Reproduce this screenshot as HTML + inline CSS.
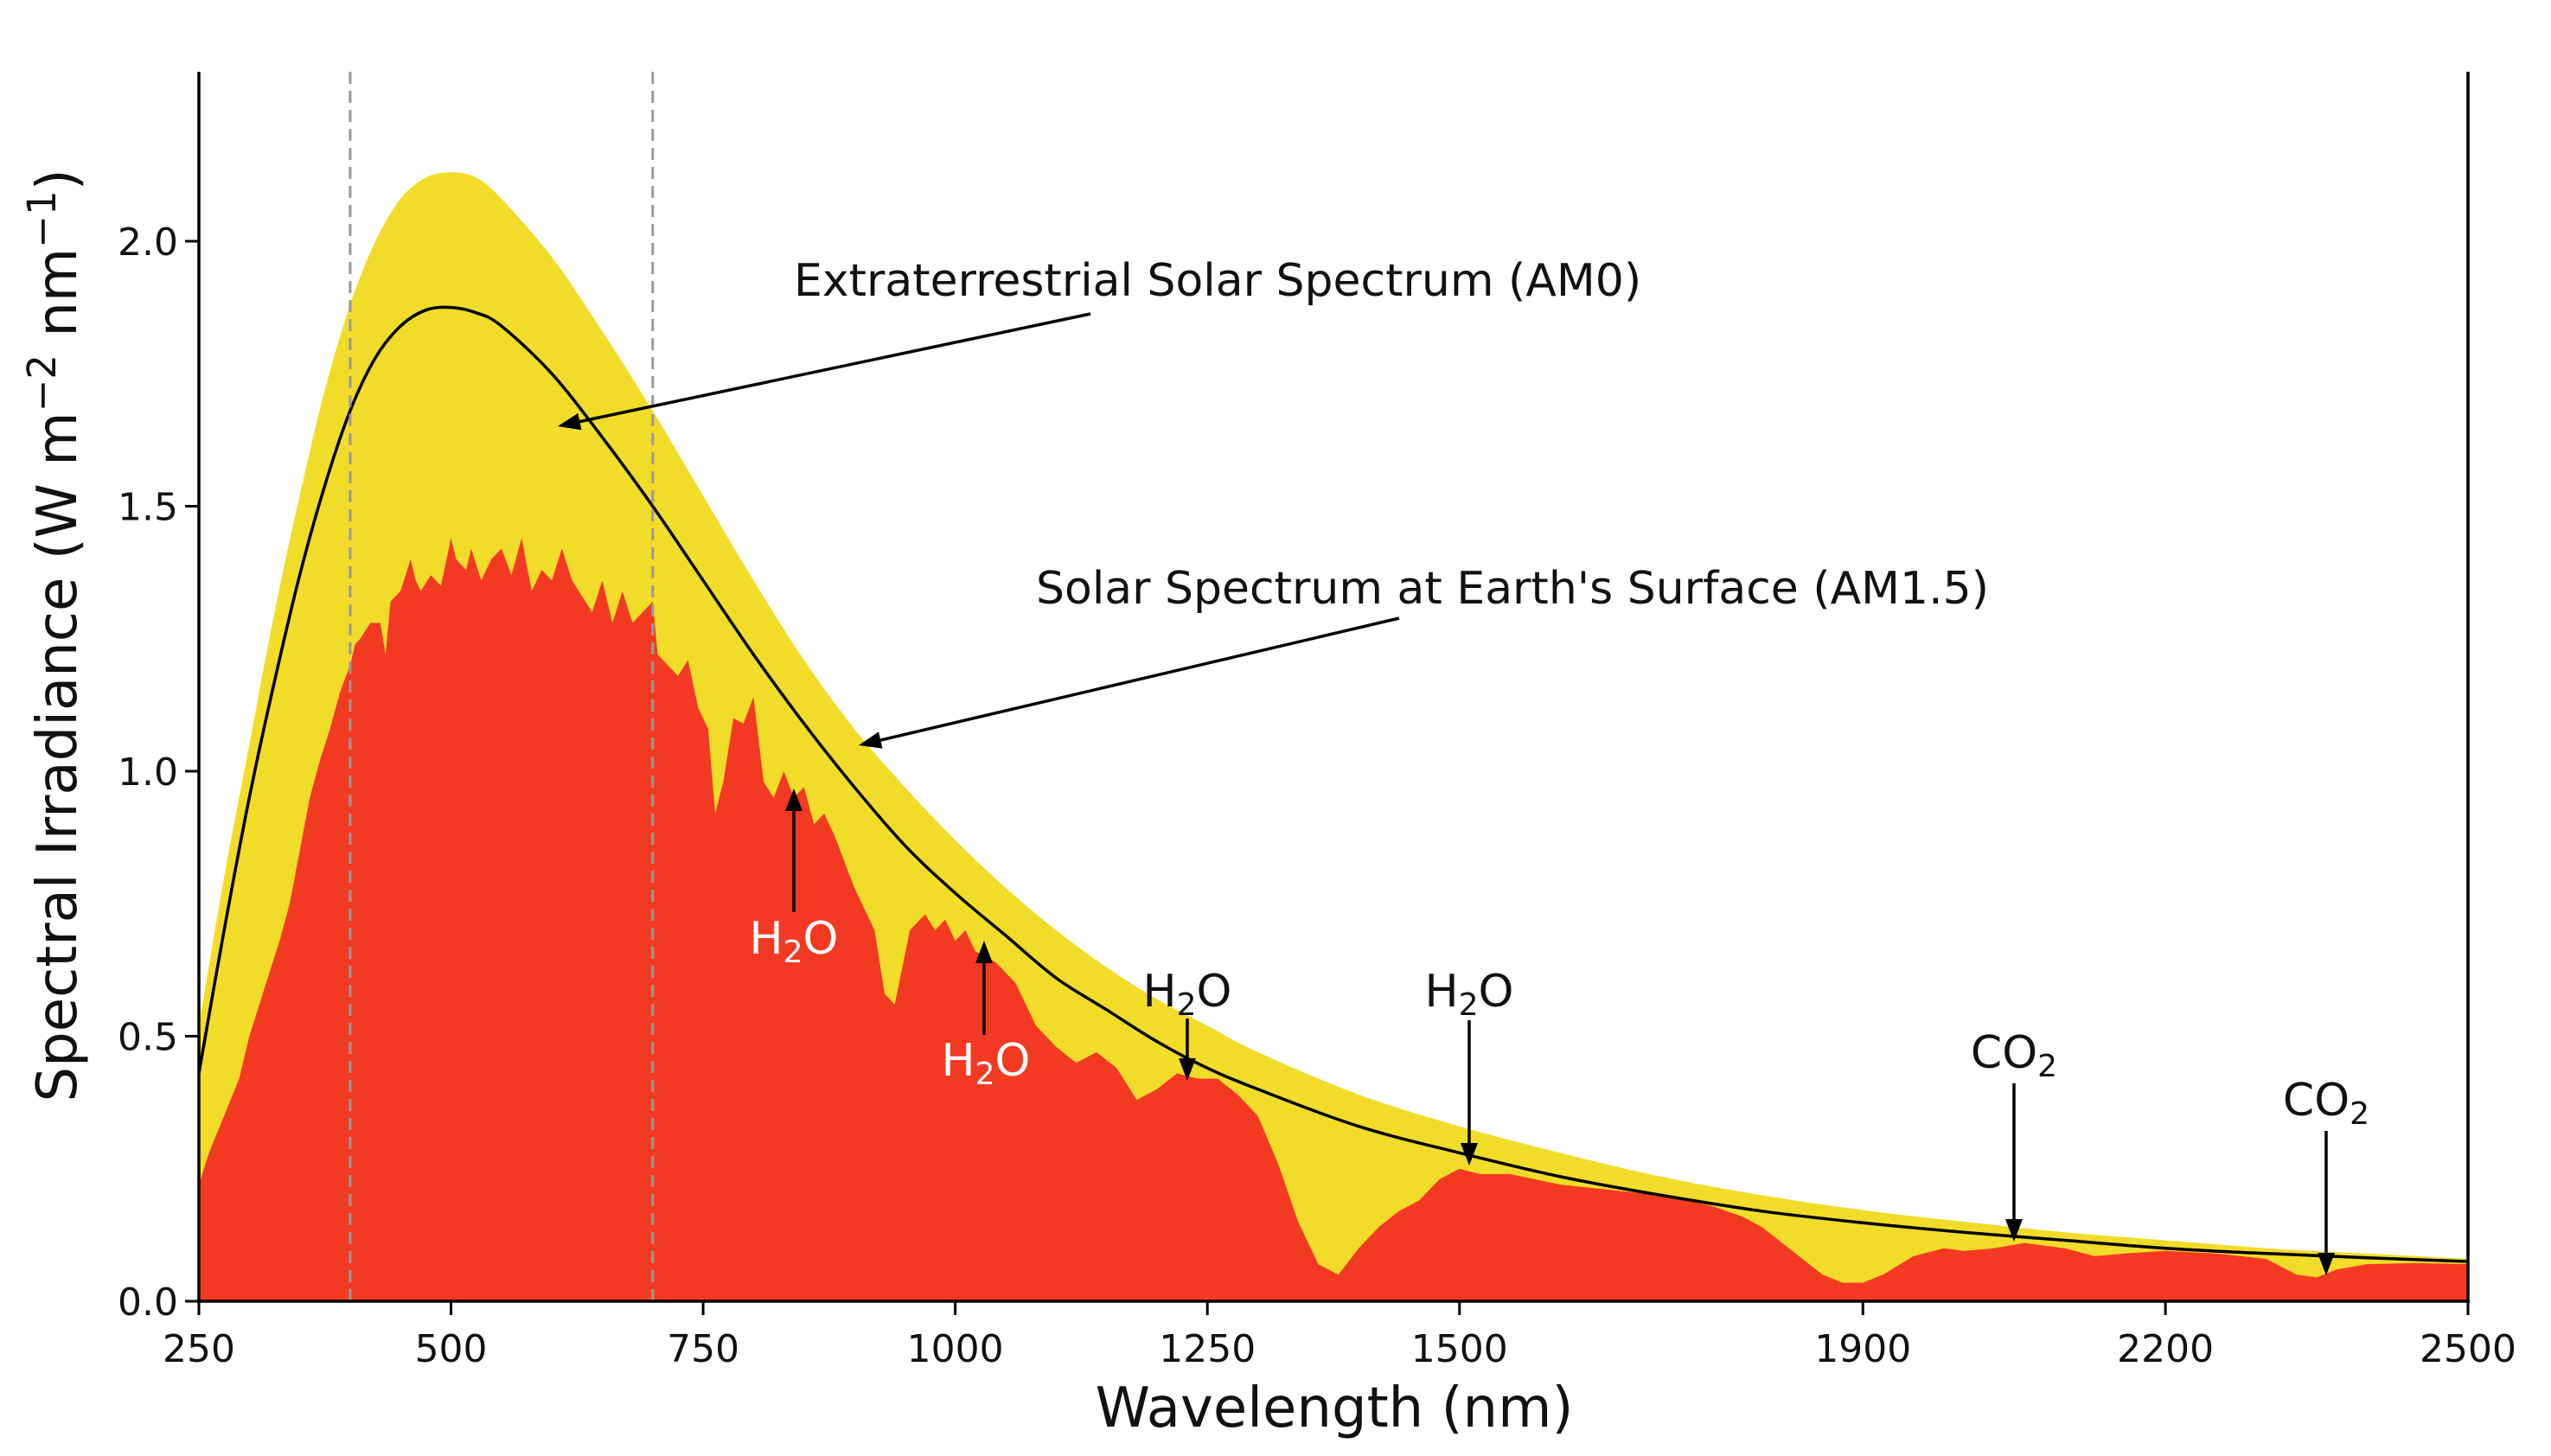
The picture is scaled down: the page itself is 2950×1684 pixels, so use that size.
<!DOCTYPE html>
<html><head><meta charset="utf-8">
<style>
html,body{margin:0;padding:0;background:#fff;}
svg{display:block;font-family:"DejaVu Sans","Liberation Sans",sans-serif;}
</style></head>
<body>
<svg id="chart" width="2950" height="1684" viewBox="0 0 2950 1684">
<g id="plot"></g>
<g id="axes"></g>
<g id="annot"></g>
</svg>
<script>
const am0Wl = [250,275,300,325,350,375,400,425,450,475,500,525,550,600,650,700,750,800,850,900,950,1000,1050,1100,1150,1200,1250,1300,1400,1500,1600,1700,1800,1900,2000,2100,2200,2300,2400,2500];
const am0Val = [0.52,0.8,1.05,1.3,1.52,1.72,1.88,2.0,2.08,2.12,2.13,2.12,2.08,1.97,1.83,1.68,1.52,1.36,1.21,1.08,0.97,0.87,0.78,0.70,0.63,0.57,0.52,0.47,0.39,0.33,0.28,0.235,0.2,0.172,0.15,0.13,0.115,0.1,0.09,0.08];
const bbWl = [250,275,300,325,350,375,400,425,450,475,500,525,550,600,650,700,750,800,850,900,950,1000,1050,1100,1150,1200,1250,1300,1400,1500,1600,1700,1800,1900,2000,2100,2200,2300,2400,2500];
const bbVal = [0.43,0.7,0.95,1.17,1.37,1.54,1.68,1.78,1.84,1.87,1.875,1.865,1.84,1.75,1.63,1.5,1.36,1.22,1.09,0.97,0.86,0.77,0.69,0.61,0.55,0.49,0.44,0.40,0.33,0.28,0.235,0.2,0.17,0.148,0.13,0.115,0.1,0.09,0.082,0.075];
const am15Wl = [250,260,275,290,300,310,320,330,340,350,360,370,380,390,400,405,410,420,430,435,440,450,460,465,470,480,490,500,505,515,520,530,540,550,560,570,580,590,600,610,620,630,640,650,660,670,680,690,700,705,715,725,735,745,755,762,770,780,790,800,810,820,830,840,850,860,870,880,900,920,930,940,955,970,980,990,1000,1010,1020,1040,1060,1080,1100,1120,1140,1160,1180,1200,1220,1240,1260,1280,1300,1320,1340,1360,1380,1400,1420,1440,1460,1480,1500,1520,1550,1600,1650,1700,1750,1780,1800,1820,1840,1860,1880,1900,1920,1950,1980,2000,2030,2060,2080,2100,2130,2160,2200,2250,2300,2330,2350,2370,2400,2450,2500];
const am15Val = [0.22,0.28,0.35,0.42,0.5,0.56,0.62,0.68,0.75,0.85,0.95,1.02,1.08,1.15,1.2,1.24,1.25,1.28,1.28,1.22,1.32,1.34,1.40,1.36,1.34,1.37,1.35,1.44,1.4,1.38,1.42,1.36,1.40,1.42,1.37,1.44,1.34,1.38,1.36,1.42,1.36,1.33,1.30,1.36,1.28,1.34,1.28,1.30,1.32,1.22,1.2,1.18,1.21,1.12,1.08,0.92,0.98,1.1,1.09,1.14,0.98,0.95,1.0,0.95,0.97,0.90,0.92,0.88,0.78,0.70,0.58,0.56,0.7,0.73,0.70,0.72,0.68,0.70,0.66,0.64,0.60,0.52,0.48,0.45,0.47,0.44,0.38,0.40,0.43,0.42,0.42,0.39,0.35,0.26,0.15,0.07,0.05,0.1,0.14,0.17,0.19,0.23,0.25,0.24,0.24,0.22,0.21,0.20,0.18,0.16,0.14,0.11,0.08,0.05,0.035,0.035,0.05,0.085,0.1,0.095,0.10,0.11,0.105,0.1,0.085,0.09,0.095,0.09,0.08,0.05,0.045,0.06,0.07,0.072,0.07];
const xTicks = [250,500,750,1000,1250,1500,1900,2200,2500];
const xTickLabels = ["250","500","750","1000","1250","1500","1900","2200","2500"];
const yTicks = [0,0.5,1.0,1.5,2.0];
const yTickLabels = ["0.0","0.5","1.0","1.5","2.0"];
const visBounds = [400,700];

const X0=230,X1=2854,Y0=1505,YU=613;
const xs = w => X0 + (w-250)*(X1-X0)/2250;
const ys = v => Y0 - v*YU;
const NS="http://www.w3.org/2000/svg";
function mk(tag, attrs, parent){const e=document.createElementNS(NS,tag);for(const k in attrs)e.setAttribute(k,attrs[k]);parent.appendChild(e);return e;}
const plot=document.getElementById('plot'), axes=document.getElementById('axes'), annot=document.getElementById('annot');

function smooth(wl,val){
  const p=wl.map((w,i)=>[xs(w),ys(val[i])]);
  let d=`M${p[0][0].toFixed(1)},${p[0][1].toFixed(1)}`;
  for(let i=0;i<p.length-1;i++){
    const p0=p[i-1]||p[i],p1=p[i],p2=p[i+1],p3=p[i+2]||p[i+1];
    const c1=[p1[0]+(p2[0]-p0[0])/6,p1[1]+(p2[1]-p0[1])/6];
    const c2=[p2[0]-(p3[0]-p1[0])/6,p2[1]-(p3[1]-p1[1])/6];
    d+=`C${c1[0].toFixed(1)},${c1[1].toFixed(1)} ${c2[0].toFixed(1)},${c2[1].toFixed(1)} ${p2[0].toFixed(1)},${p2[1].toFixed(1)}`;
  }
  return d;
}
function areaPath(wl,val){let d=`M${xs(wl[0])},${Y0}`;for(let i=0;i<wl.length;i++)d+=`L${xs(wl[i]).toFixed(1)},${ys(val[i]).toFixed(1)}`;d+=`L${xs(wl[wl.length-1])},${Y0}Z`;return d;}

const a0=mk('path',{d:smooth(am0Wl,am0Val)+`L${X1},${Y0}L${X0},${Y0}Z`,fill:'#f2dc2a'},plot);


const a15=mk('path',{d:areaPath(am15Wl,am15Val),fill:'#f23a22'},plot);


const bb=mk('path',{d:smooth(bbWl,bbVal),fill:'none',stroke:'#000','stroke-width':3.5},plot);


visBounds.forEach(w=>{
  const l=mk('line',{x1:xs(w),x2:xs(w),y1:83,y2:Y0,stroke:'#999','stroke-width':3,'stroke-dasharray':'14,8'},plot);
  
  
});

mk('line',{x1:X0,x2:X0,y1:83,y2:Y0+2,stroke:'#000','stroke-width':3.5},axes);
mk('line',{x1:X1,x2:X1,y1:83,y2:Y0+2,stroke:'#000','stroke-width':3.5},axes);
mk('line',{x1:X0-2,x2:X1+2,y1:Y0,y2:Y0,stroke:'#000','stroke-width':3.5},axes);
xTicks.forEach((w,i)=>{
  mk('line',{x1:xs(w),x2:xs(w),y1:Y0,y2:Y0+16,stroke:'#000','stroke-width':3},axes);
  const t=mk('text',{x:xs(w),y:Y0+70,'text-anchor':'middle','font-size':44,fill:'#111'},axes);
  t.textContent=xTickLabels[i];
  
  
});
yTicks.forEach((v,i)=>{
  mk('line',{x1:X0-16,x2:X0,y1:ys(v),y2:ys(v),stroke:'#000','stroke-width':3},axes);
  const t=mk('text',{x:X0-24,y:ys(v)+16,'text-anchor':'end','font-size':44,fill:'#111'},axes);
  t.textContent=yTickLabels[i];
  
  
});

const A=annot;
function txt(x,y,s,fill,name,anchor){const t=mk('text',{x:x,y:y,'font-size':52,fill:fill,'text-anchor':anchor||'start'},A);t.innerHTML=s;return t;}
function arrow(x1,y1,x2,y2,name){
  const g=mk('g',{},A);
  
  
  const dx=x2-x1,dy=y2-y1,L=Math.hypot(dx,dy),ux=dx/L,uy=dy/L,h=26,w=10;
  mk('line',{x1:x1,y1:y1,x2:x2-ux*h,y2:y2-uy*h,stroke:'#000','stroke-width':3.5},g);
  const bx=x2-ux*h,by=y2-uy*h;
  mk('polygon',{points:`${x2},${y2} ${bx-uy*w},${by+ux*w} ${bx+uy*w},${by-ux*w}`,fill:'#000'},g);
}
const sub='<tspan font-size="36" dy="10">2</tspan><tspan dy="-10">O</tspan>';
const subc='<tspan font-size="36" dy="10">2</tspan>';
txt(918,342,'Extraterrestrial Solar Spectrum (AM0)','#111','am0-annotation-label');
arrow(1261,363,645,493,'am0-arrow');
txt(1198,698,"Solar Spectrum at Earth's Surface (AM1.5)",'#111','am15-annotation-label');
arrow(1618,715,993,862,'am15-arrow');
txt(918,1103,'H'+sub,'#fff','h2o-label-1','middle');
arrow(918,1055,918,912,'h2o-arrow-1');
txt(1140,1244,'H'+sub,'#fff','h2o-label-2','middle');
arrow(1138,1197,1138,1088,'h2o-arrow-2');
txt(1373,1164,'H'+sub,'#111','h2o-label-3','middle');
arrow(1373,1178,1373,1250,'h2o-arrow-3');
txt(1699,1164,'H'+sub,'#111','h2o-label-4','middle');
arrow(1699,1180,1699,1348,'h2o-arrow-4');
txt(2329,1235,'CO'+subc,'#111','co2-label-1','middle');
arrow(2329,1253,2329,1436,'co2-arrow-1');
txt(2690,1290,'CO'+subc,'#111','co2-label-2','middle');
arrow(2690,1308,2690,1475,'co2-arrow-2');

const xl=mk('text',{x:1543,y:1650,'text-anchor':'middle','font-size':64,fill:'#111'},A);
xl.textContent='Wavelength (nm)';


const yl=mk('text',{x:0,y:0,'text-anchor':'middle','font-size':64,fill:'#111',transform:'translate(88,735) rotate(-90)'},A);
yl.innerHTML='Spectral Irradiance (W m<tspan dy="-24" font-size="45">−2</tspan><tspan dy="24"> nm</tspan><tspan dy="-24" font-size="45">−1</tspan><tspan dy="24">)</tspan>';


</script>
</body></html>
